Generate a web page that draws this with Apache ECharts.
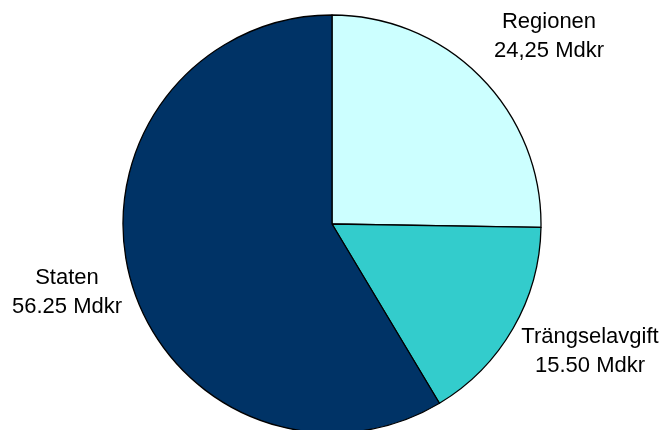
<!DOCTYPE html>
<html>
<head>
<meta charset="utf-8">
<script src="https://cdn.jsdelivr.net/npm/echarts@6/dist/echarts.min.js"></script>
<style>html,body{margin:0;padding:0;background:#fff;}#c{width:661px;height:430px;}</style>
</head>
<body>
<div id="c"></div>
<script>
var categories = ['Regionen', 'Trängselavgift', 'Staten'];
var values = [24.25, 15.50, 56.25];
var valueLabels = ['24,25 Mdkr', '15.50 Mdkr', '56.25 Mdkr'];
var colors = ['#CCFFFF', '#33CCCC', '#003366'];
var labelPos = [
  {x: 549, y: 36},
  {x: 590, y: 351},
  {x: 67, y: 292}
];
var chart = echarts.init(document.getElementById('c'));
chart.setOption({
  animation: false,
  series: [{
    type: 'pie',
    center: [332, 224],
    radius: 209,
    startAngle: 90,
    clockwise: true,
    data: categories.map(function (n, i) {
      return {name: n, value: values[i], itemStyle: {color: colors[i]}};
    }),
    itemStyle: {borderColor: '#000', borderWidth: 1.3},
    label: {
      show: true,
      position: 'outside',
      overflow: 'none',
      formatter: function (p) { return p.name + '\n' + valueLabels[p.dataIndex]; },
      color: '#000',
      fontFamily: 'Liberation Sans, Arial, sans-serif',
      fontSize: 22,
      lineHeight: 29
    },
    labelLine: {show: false},
    labelLayout: function (p) {
      var lp = labelPos[p.dataIndex];
      return {x: lp.x, y: lp.y, align: 'center', verticalAlign: 'middle'};
    },
    emphasis: {disabled: true}
  }]
});
</script>
</body>
</html>
